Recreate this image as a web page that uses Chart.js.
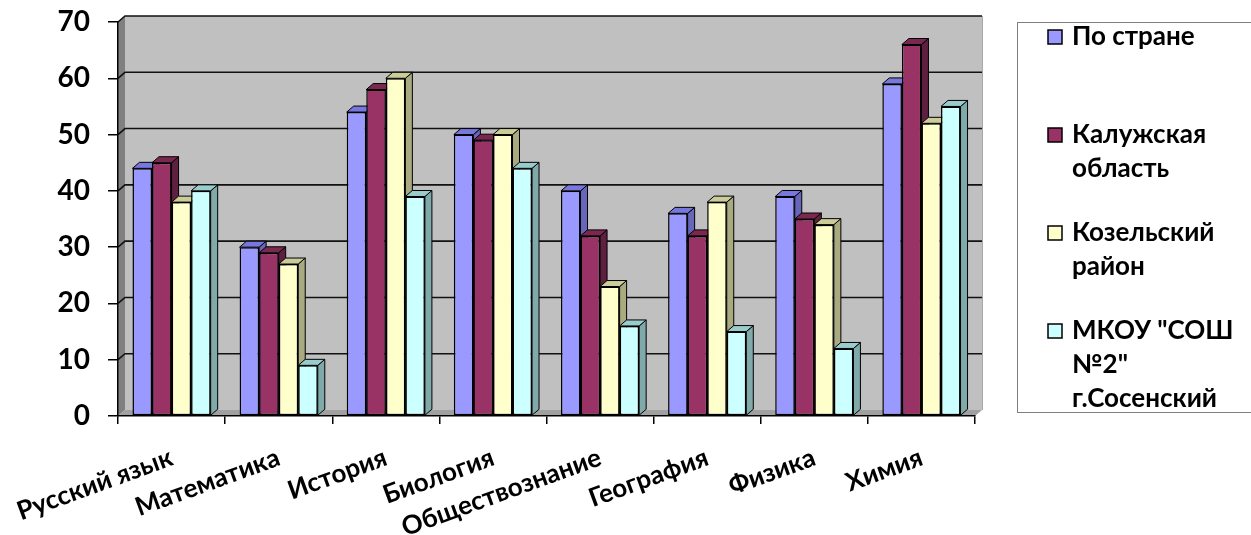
<!DOCTYPE html>
<html lang="ru">
<head>
<meta charset="utf-8">
<title>Результаты по предметам</title>
<script src="https://cdn.jsdelivr.net/npm/chart.js@4.4.1/dist/chart.umd.min.js"></script>
<style>
    html, body { margin: 0; padding: 0; background: #fff; }
    #wrap { width: 1251px; height: 535px; position: relative; }
</style>
</head>
<body>
<div id="wrap"><canvas id="chart"></canvas></div>
<script>
// ---- data ----
const subjects = ['Русский язык', 'Математика', 'История', 'Биология', 'Обществознание', 'География', 'Физика', 'Химия'];
const seriesNames = ['По стране', 'Калужская область', 'Козельский район', 'МКОУ "СОШ №2" г.Сосенский'];
const country  = [44, 30, 54, 50, 40, 36, 39, 59];
const region   = [45, 29, 58, 49, 32, 32, 35, 66];
const district = [38, 27, 60, 50, 23, 38, 34, 52];
const school   = [40, 9, 39, 44, 16, 15, 12, 55];
const yTicks = [0, 10, 20, 30, 40, 50, 60, 70];

// front / top / side colours of each series
const fronts = ['#9999FF', '#993366', '#FFFFCC', '#CCFFFF'];
const tops   = ['#7777DD', '#7A2850', '#CCCC99', '#99CCCC'];
const sides  = ['#6666BB', '#5E1F40', '#AAAA80', '#80AAAA'];

const FONT = 'Lato, "Open Sans", sans-serif';
const DX = 7, DY = 6;   // depth of the fake 3D

// back wall, left wall, floor and gridlines
const wallsPlugin = {
    id: 'walls',
    beforeDraw(chart) {
        const { ctx, chartArea: a } = chart;
        const y = chart.scales.y;
        ctx.save();
        // back wall
        ctx.fillStyle = '#C0C0C0';
        ctx.fillRect(a.left + DX, a.top - DY, a.right - a.left, a.bottom - a.top);
        // left wall
        ctx.fillStyle = '#808080';
        ctx.beginPath();
        ctx.moveTo(a.left, a.bottom);
        ctx.lineTo(a.left, a.top);
        ctx.lineTo(a.left + DX, a.top - DY);
        ctx.lineTo(a.left + DX, a.bottom - DY);
        ctx.closePath();
        ctx.fill();
        // floor
        ctx.fillStyle = '#A0A0A0';
        ctx.beginPath();
        ctx.moveTo(a.left, a.bottom);
        ctx.lineTo(a.right, a.bottom);
        ctx.lineTo(a.right + DX, a.bottom - DY);
        ctx.lineTo(a.left + DX, a.bottom - DY);
        ctx.closePath();
        ctx.fill();
        // right edge of the wall
        ctx.strokeStyle = '#A8A8A8';
        ctx.lineWidth = 1;
        ctx.beginPath();
        ctx.moveTo(a.right + DX + 0.5, a.top - DY);
        ctx.lineTo(a.right + DX + 0.5, a.bottom - DY);
        ctx.stroke();
        // gridlines on back wall and left wall
        ctx.strokeStyle = '#111';
        ctx.lineWidth = 1.6;
        yTicks.forEach(v => {
            if (v === 0) return;
            const py = y.getPixelForValue(v);
            ctx.beginPath();
            ctx.moveTo(a.left, py);
            ctx.lineTo(a.left + DX, py - DY);
            ctx.lineTo(a.right + DX, py - DY);
            ctx.stroke();
        });
        ctx.restore();
    },
    beforeDatasetsDraw(chart) {
        const { ctx } = chart;
        ctx.save();
        ctx.strokeStyle = '#000';
        ctx.lineWidth = 1;
        ctx.lineJoin = 'round';
        chart.data.datasets.forEach((ds, di) => {
            chart.getDatasetMeta(di).data.forEach(bar => {
                const l = bar.x - bar.width / 2, r = bar.x + bar.width / 2;
                const t = bar.y, b = bar.base;
                // side face
                ctx.fillStyle = sides[di];
                ctx.beginPath();
                ctx.moveTo(r, t);
                ctx.lineTo(r + DX, t - DY);
                ctx.lineTo(r + DX, b - DY);
                ctx.lineTo(r, b);
                ctx.closePath();
                ctx.fill();
                ctx.stroke();
                // top face
                ctx.fillStyle = tops[di];
                ctx.beginPath();
                ctx.moveTo(l, t);
                ctx.lineTo(l + DX, t - DY);
                ctx.lineTo(r + DX, t - DY);
                ctx.lineTo(r, t);
                ctx.closePath();
                ctx.fill();
                ctx.stroke();
            });
        });
        ctx.restore();
    }
};

// boxed legend on the right, labels wrapped like the original
const legendPlugin = {
    id: 'sideLegend',
    afterDraw(chart) {
        const { ctx } = chart;
        const boxX = 1017, boxY = 22, boxH = 390;
        const maxW = 172;
        ctx.save();
        ctx.strokeStyle = '#7F7F7F';
        ctx.lineWidth = 1;
        ctx.strokeRect(boxX + 0.5, boxY + 0.5, 300, boxH);
        ctx.font = `bold 26px ${FONT}`;
        ctx.textBaseline = 'middle';
        ctx.fillStyle = '#000';
        chart.data.datasets.forEach((ds, i) => {
            const cy = 37 + i * 98;
            ctx.fillStyle = fronts[i];
            ctx.fillRect(1048, cy - 7, 14, 14);
            ctx.strokeStyle = '#000';
            ctx.lineWidth = 1.5;
            ctx.strokeRect(1048, cy - 7, 14, 14);
            // word wrap
            const lines = [];
            let cur = '';
            ds.label.split(' ').forEach(w => {
                const test = cur ? cur + ' ' + w : w;
                if (cur && ctx.measureText(test).width > maxW) { lines.push(cur); cur = w; }
                else cur = test;
            });
            lines.push(cur);
            ctx.fillStyle = '#000';
            lines.forEach((ln, k) => ctx.fillText(ln, 1072, cy + k * 34));
        });
        ctx.restore();
    }
};

const seriesValues = [country, region, district, school];

new Chart(document.getElementById('chart'), {
    type: 'bar',
    data: {
        labels: subjects,
        datasets: seriesValues.map((vals, i) => ({
            label: seriesNames[i],
            data: vals,
            backgroundColor: fronts[i],
            borderColor: '#000',
            borderWidth: 1.5,
            borderSkipped: false,
            barPercentage: 1.0,
            categoryPercentage: 0.73
        }))
    },
    options: {
        responsive: true,
        maintainAspectRatio: false,
        animation: false,
        layout: { padding: { top: 22, right: 276, left: 0, bottom: 0 } },
        plugins: { legend: { display: false }, tooltip: { enabled: false } },
        scales: {
            y: {
                min: 0, max: 70,
                afterBuildTicks: s => { s.ticks = yTicks.map(v => ({ value: v })); },
                afterFit: s => { s.width = 118; s.paddingTop = 0; s.paddingBottom = 0; },
                ticks: { color: '#000', padding: 18, font: { family: FONT, size: 28, weight: 'bold' } },
                grid: { drawOnChartArea: false, drawTicks: true, tickLength: 10, color: '#000', lineWidth: 1.5 },
                border: { display: true, color: '#000', width: 1.5 }
            },
            x: {
                afterFit: s => { s.height = 119; s.paddingLeft = 0; s.paddingRight = 0; },
                ticks: {
                    color: '#000', minRotation: 20, maxRotation: 20, padding: 18,
                    font: { family: FONT, size: 26, weight: 'bold' }
                },
                grid: { offset: true, drawOnChartArea: false, drawTicks: true, tickLength: 8, color: '#000', lineWidth: 1.5 },
                border: { display: true, color: '#000', width: 1.5 }
            }
        }
    },
    plugins: [wallsPlugin, legendPlugin]
});
</script>
</body>
</html>
